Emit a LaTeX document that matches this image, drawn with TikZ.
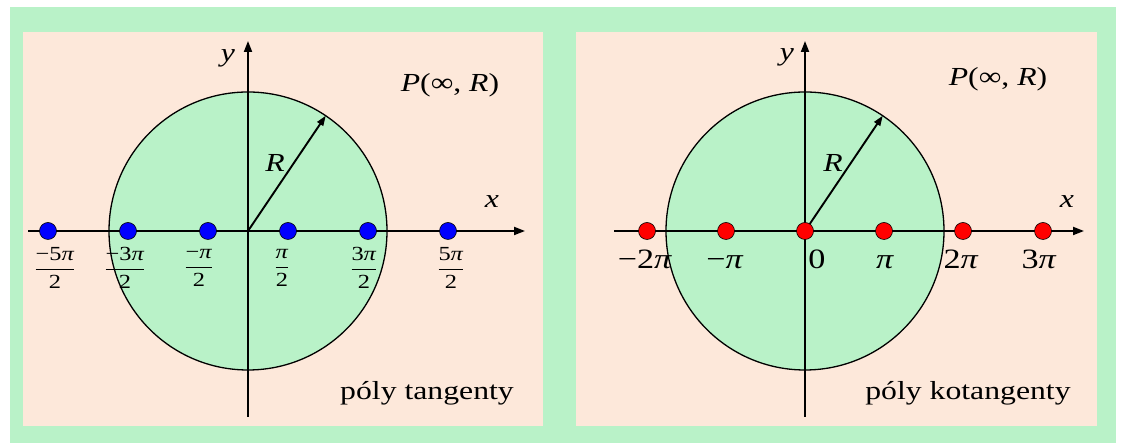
\documentclass[tikz,border=0pt]{standalone}
\usepackage{fontspec}
\usepackage{amsmath}
\setmainfont{Liberation Serif}
\usetikzlibrary{arrows.meta}
\definecolor{gfill}{RGB}{185,242,200}
\definecolor{pfill}{RGB}{253,232,218}
\definecolor{bdot} {RGB}{  0,  0,255}
\definecolor{rdot} {RGB}{255,  0,  0}
\tikzset{
  AX/.style={line width=1.9pt, -{Triangle[length=11pt,width=8pt]}},
  CI/.style={fill=gfill, draw=black, line width=1.3pt},
  RA/.style={line width=1.9pt, -{Triangle[length=10pt,width=7pt]}},
  BD/.style={circle, fill=bdot, draw=black, line width=0.6pt,
             minimum size=17pt, inner sep=0pt},
  RD/.style={circle, fill=rdot, draw=black, line width=0.6pt,
             minimum size=17pt, inner sep=0pt},
  LB/.style={inner sep=0pt, xscale=1.22, font=\fontsize{26}{28}\selectfont},
  TK/.style={inner sep=0pt, xscale=1.22, anchor=base,
             font=\fontsize{28}{30}\selectfont},
  FR/.style={inner sep=0pt, xscale=1.22, font=\fontsize{20}{22}\selectfont},
}
\newcommand{\fr}[2]{$\genfrac{}{}{0.9pt}{0}{\text{#1}}{\text{#2}}$}
\newcommand{\RR}{139}

\begin{document}
\begin{tikzpicture}[x=1pt, y=1pt]
\useasboundingbox (0,0) rectangle (1121,443);
\fill[white] (0,0) rectangle (1121,443);

%% background
\fill[gfill] (10,0) rectangle (1116,436);
\fill[pfill] (23,17) rectangle (543,411);
\fill[pfill] (576,17) rectangle (1097,411);

%% ================================================================
%%  PANEL 1 – POLES OF TANGENT
%% ================================================================
\begin{scope}[shift={(248,212)}]
  \coordinate (O1) at (0,0);
  \coordinate (xa1) at (-220,0);
  \coordinate (xb1) at (277,0);
  \coordinate (ya1) at (0,-186);
  \coordinate (yb1) at (0,190);
  \coordinate (r1) at (56:\RR);

  % circle
  \draw[CI] (O1) circle (\RR);

  % axes
  \draw[AX] (xa1) -- (xb1);
  \draw[AX] (ya1) -- (yb1);

  % radius
  \draw[RA] (O1) -- (r1);

  % poles
  \node[BD] (p1a) at (-200,0) {};
  \node[BD] (p1b) at (-120,0) {};
  \node[BD] (p1c) at (-40,0) {};
  \node[BD] (p1d) at (40,0) {};
  \node[BD] (p1e) at (120,0) {};
  \node[BD] (p1f) at (200,0) {};

  % pole labels
  \node[FR] (f1a) at (-193,-37) {\fr{−5\textit{π}}{2}};
  \node[FR] (f1b) at (-123,-37) {\fr{−3\textit{π}}{2}};
  \node[FR] (f1c) at (-49,-37)  {\fr{−\textit{π}}{2}};
  \node[FR] (f1d) at (34,-37)   {\fr{\textit{π}}{2}};
  \node[FR] (f1e) at (116,-37)  {\fr{3\textit{π}}{2}};
  \node[FR] (f1f) at (203,-37)  {\fr{5\textit{π}}{2}};

  % texts
  \node[LB] (ylab1) at (-20,173) {\textit{y}};
  \node[LB] (xlab1) at (244,29)  {\textit{x}};
  \node[LB] (rlab1) at (27,68)   {\textit{R}};
  \node[LB, anchor=base] (plab1) at (202,139) {\textit{P}(∞, \textit{R})};
  \node[LB, anchor=base] (tlab1) at (179,-169) {póly tangenty};
\end{scope}

%% ================================================================
%%  PANEL 2 – POLES OF COTANGENT
%% ================================================================
\begin{scope}[shift={(805,212)}]
  \coordinate (O2) at (0,0);
  \coordinate (xa2) at (-191,0);
  \coordinate (xb2) at (279,0);
  \coordinate (ya2) at (0,-186);
  \coordinate (yb2) at (0,190);
  \coordinate (r2) at (56:\RR);

  % circle
  \draw[CI] (O2) circle (\RR);

  % axes
  \draw[AX] (xa2) -- (xb2);
  \draw[AX] (ya2) -- (yb2);

  % radius
  \draw[RA] (O2) -- (r2);

  % poles
  \node[RD] (p2a) at (-158,0) {};
  \node[RD] (p2b) at (-79,0) {};
  \node[RD] (p2c) at (0,0) {};
  \node[RD] (p2d) at (79,0) {};
  \node[RD] (p2e) at (158,0) {};
  \node[RD] (p2f) at (238,0) {};

  % pole labels
  \node[TK] (k2a) at (-160,-38) {−2\textit{π}};
  \node[TK] (k2b) at (-80,-38)  {−\textit{π}};
  \node[TK] (k2c) at (12,-38)   {0};
  \node[TK] (k2d) at (80,-38)   {\textit{π}};
  \node[TK] (k2e) at (156,-38)  {2\textit{π}};
  \node[TK] (k2f) at (234,-38)  {3\textit{π}};

  % texts
  \node[LB] (ylab2) at (-18,174) {\textit{y}};
  \node[LB] (xlab2) at (262,29)  {\textit{x}};
  \node[LB] (rlab2) at (28,68)   {\textit{R}};
  \node[LB, anchor=base] (plab2) at (193,145) {\textit{P}(∞, \textit{R})};
  \node[LB, anchor=base] (tlab2) at (163,-169) {póly kotangenty};
\end{scope}

\end{tikzpicture}
\end{document}
